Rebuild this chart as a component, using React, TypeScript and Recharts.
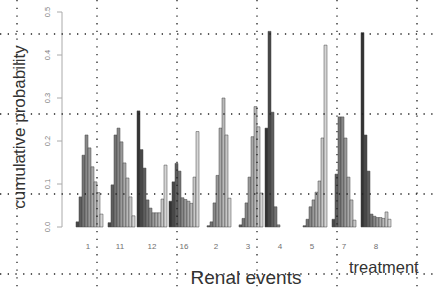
import React from 'react';
import { Bar, BarChart, Label, Legend, XAxis, YAxis } from 'recharts';

// renal event categories along the x axis
const renalEvents = ['1', '11', '12', '16', '2', '3', '4', '5', '7', '8'];
const yTicks = [0, 0.1, 0.2, 0.3, 0.4, 0.5];

// cumulative probability of the 10 treatments, one list per renal event
const event1 = [0, 0.012, 0.07, 0.167, 0.214, 0.184, 0.14, 0.105, 0.08, 0.03];
const event11 = [0, 0.01, 0.098, 0.214, 0.23, 0.198, 0.149, 0.114, 0.07, 0.026];
const event12 = [0.27, 0.18, 0.137, 0.063, 0.044, 0.033, 0.033, 0.033, 0.065, 0.144];
const event16 = [0.06, 0.105, 0.148, 0.13, 0.068, 0.064, 0.06, 0.055, 0.116, 0.222];
const event2 = [0, 0, 0.003, 0.012, 0.056, 0.12, 0.23, 0.3, 0.214, 0.067];
const event3 = [0, 0, 0.005, 0.02, 0.056, 0.116, 0.21, 0.28, 0.233, 0.079];
const event4 = [0.23, 0.455, 0.267, 0.047, 0.005, 0, 0, 0, 0, 0];
const event5 = [0, 0, 0.003, 0.018, 0.047, 0.063, 0.081, 0.107, 0.207, 0.423];
const event7 = [0, 0.018, 0.123, 0.256, 0.256, 0.207, 0.116, 0.063, 0.016, 0];
const event8 = [0.452, 0.214, 0.13, 0.03, 0.025, 0.022, 0.022, 0.02, 0.035, 0.018];

const eventValues = [event1, event11, event12, event16, event2, event3, event4, event5, event7, event8];

// grey ramp, dark to light (treatment 1 .. 10)
const treatmentColors = [
  '#333333', '#484848', '#5e5e5e', '#747474', '#888888',
  '#9a9a9a', '#aaaaaa', '#b9b9b9', '#c7c7c7', '#d5d5d5',
];

const data = renalEvents.map((event, i) => {
  const row: Record<string, string | number> = { event };
  eventValues[i].forEach((v, j) => {
    row[`t${j + 1}`] = v;
  });
  return row;
});

const FONT = '"Liberation Sans", Arial, sans-serif';

// dotted page grid lying over the figure
const gridX = [17, 97, 177, 257, 337, 417];
const gridY = [34, 114, 194, 274];

function YTick({ x, y, payload }: any) {
  return (
    <text
      x={x}
      y={y}
      transform={`rotate(-90, ${x}, ${y})`}
      textAnchor="middle"
      fontSize={7.5}
      fill="#808080"
      fontFamily={FONT}
    >
      {payload.value.toFixed(1)}
    </text>
  );
}

function XTick({ x, y, payload }: any) {
  return (
    <text x={x} y={y + 5} textAnchor="middle" fontSize={8} fill="#707070" fontFamily={FONT}>
      {payload.value}
    </text>
  );
}

export default function App() {
  return (
    <div style={{ position: 'absolute', left: 0, top: 0, width: 434, height: 290, background: '#fff' }}>
      <BarChart
        width={434}
        height={290}
        data={data}
        margin={{ top: 12, right: 34, left: 0, bottom: 33 }}
        barGap={0}
        barCategoryGap={1}
      >
        <XAxis
          dataKey="event"
          axisLine={false}
          tickLine={false}
          tickMargin={11}
          padding={{ left: 10, right: 8 }}
          tick={<XTick />}
          interval={0}
        >
          <Label
            content={() => (
              <text x={246} y={284} textAnchor="middle" fontSize={19} fill="#333" fontFamily={FONT}>
                Renal events
              </text>
            )}
          />
        </XAxis>
        <YAxis
          width={62}
          domain={[0, 0.5]}
          ticks={yTicks}
          tickSize={5}
          tickMargin={7}
          axisLine={{ stroke: '#aaa' }}
          tickLine={{ stroke: '#aaa' }}
          tick={<YTick />}
        >
          <Label
            content={() => (
              <text
                x={25}
                y={127}
                transform="rotate(-90, 25, 127)"
                textAnchor="middle"
                fontSize={17}
                fill="#333"
                fontFamily={FONT}
              >
                cumulative probability
              </text>
            )}
          />
        </YAxis>
        <Legend
          layout="horizontal"
          verticalAlign="middle"
          align="center"
          wrapperStyle={{ left: 349, top: 258, width: 'auto' }}
          content={() => (
            <span style={{ fontFamily: FONT, fontSize: 16.5, color: '#333' }}>treatment</span>
          )}
        />
        {treatmentColors.map((c, j) => (
          <Bar
            key={j}
            dataKey={`t${j + 1}`}
            name={`treatment ${j + 1}`}
            fill={c}
            stroke="#444"
            strokeWidth={0.5}
            isAnimationActive={false}
          />
        ))}
      </BarChart>
      <svg
        width={434}
        height={290}
        style={{ position: 'absolute', left: 0, top: 0, pointerEvents: 'none' }}
      >
        {gridX.map((x) => (
          <line key={`v${x}`} x1={x} y1={0} x2={x} y2={290} stroke="#222" strokeWidth={1.3} strokeDasharray="1.3 6.4" />
        ))}
        {gridY.map((y) => (
          <line key={`h${y}`} x1={0} y1={y} x2={434} y2={y} stroke="#222" strokeWidth={1.3} strokeDasharray="1.3 6.4" />
        ))}
      </svg>
    </div>
  );
}
